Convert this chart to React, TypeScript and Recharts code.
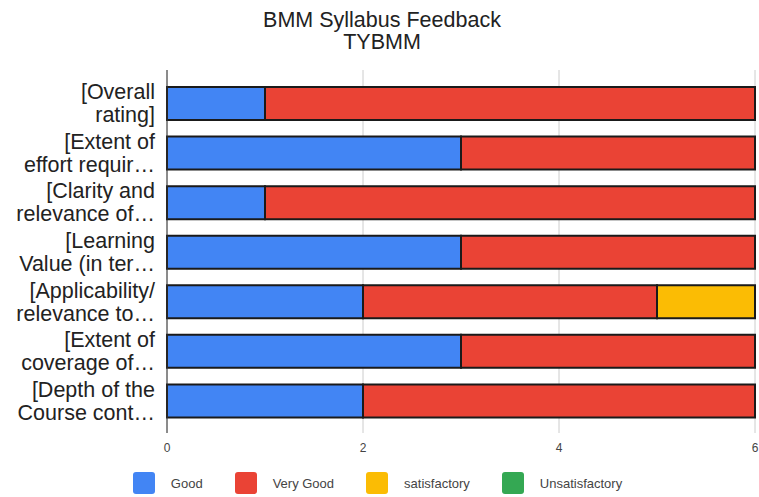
import React from "react";
import { BarChart, Bar, XAxis, YAxis, CartesianGrid, Legend } from "recharts";

const categories = [
  "Overall rating",
  "Extent of effort required",
  "Clarity and relevance of",
  "Learning Value",
  "Applicability/ relevance to",
  "Extent of coverage of",
  "Depth of the Course content",
];
const labelLine1 = [
  "[Overall",
  "[Extent of",
  "[Clarity and",
  "[Learning",
  "[Applicability/",
  "[Extent of",
  "[Depth of the",
];
const labelLine2 = [
  "rating]",
  "effort requir…",
  "relevance of…",
  "Value (in ter…",
  "relevance to…",
  "coverage of…",
  "Course cont…",
];
const good = [1, 3, 1, 3, 2, 3, 2];
const veryGood = [5, 3, 5, 3, 3, 3, 4];
const satisfactory = [0, 0, 0, 0, 1, 0, 0];
const unsatisfactory = [0, 0, 0, 0, 0, 0, 0];
const xTicks = [0, 2, 4, 6];

const seriesNames = ["Good", "Very Good", "satisfactory", "Unsatisfactory"];
const seriesColors = ["#4285F4", "#EA4335", "#FBBC04", "#34A853"];

const data = categories.map((c, i) => ({
  cat: c,
  good: good[i],
  veryGood: veryGood[i],
  satisfactory: satisfactory[i],
  unsatisfactory: unsatisfactory[i],
}));

const FONT = "'Liberation Sans', Arial, sans-serif";

const YTick = (props: any) => {
  const { x, y, payload } = props;
  const idx = categories.indexOf(payload.value);
  return (
    <text x={x} y={y} textAnchor="end" fontFamily={FONT} fontSize={21.5} fill="#222">
      <tspan x={x} y={y - 4.5}>{labelLine1[idx]}</tspan>
      <tspan x={x} y={y + 18.5}>{labelLine2[idx]}</tspan>
    </text>
  );
};

const LegendContent = () => (
  <div
    style={{
      height: 39,
      boxSizing: "border-box",
      paddingTop: 14,
      display: "flex",
      justifyContent: "center",
      alignItems: "flex-start",
      fontFamily: FONT,
      fontSize: 13,
      color: "#444",
    }}
  >
    {seriesNames.map((n, i) => (
      <div
        key={n}
        style={{
          display: "flex",
          alignItems: "center",
          marginRight: i < seriesNames.length - 1 ? 32 : 0,
          height: 22,
        }}
      >
        <div
          style={{
            width: 22,
            height: 22,
            borderRadius: 3,
            background: seriesColors[i],
            marginRight: 16,
          }}
        />
        <span>{n}</span>
      </div>
    ))}
  </div>
);

export default function App() {
  return (
    <div style={{ position: "absolute", left: 0, top: 0, width: 759, height: 497, background: "#fff" }}>
      <svg width={759} height={60} style={{ position: "absolute", left: 0, top: 0 }}>
        <text x={382} y={27} textAnchor="middle" fontFamily={FONT} fontSize={21.5} fill="#222">
          BMM Syllabus Feedback
        </text>
        <text x={382} y={49} textAnchor="middle" fontFamily={FONT} fontSize={21.5} fill="#222">
          TYBMM
        </text>
      </svg>
      <BarChart
        width={759}
        height={497}
        data={data}
        layout="vertical"
        margin={{ top: 70, right: 4, bottom: 0, left: 0 }}
        barSize={33}
      >
        <CartesianGrid horizontal={false} stroke="#cccccc" />
        <XAxis
          type="number"
          domain={[0, 6]}
          ticks={xTicks}
          axisLine={false}
          tickLine={false}
          tickSize={0}
          tickMargin={10}
          height={25}
          tick={{ fill: "#444", fontSize: 12, fontFamily: FONT }}
        />
        <YAxis
          type="category"
          dataKey="cat"
          width={167}
          padding={{ top: 9, bottom: 7 }}
          axisLine={{ stroke: "#333", strokeWidth: 1 }}
          tickLine={false}
          tickSize={0}
          tickMargin={12}
          tick={<YTick />}
          interval={0}
        />
        <Legend verticalAlign="bottom" content={<LegendContent />} />
        <Bar dataKey="good" name="Good" stackId="a" fill={seriesColors[0]} stroke="#1a1a1a" strokeWidth={2} isAnimationActive={false} />
        <Bar dataKey="veryGood" name="Very Good" stackId="a" fill={seriesColors[1]} stroke="#1a1a1a" strokeWidth={2} isAnimationActive={false} />
        <Bar dataKey="satisfactory" name="satisfactory" stackId="a" fill={seriesColors[2]} stroke="#1a1a1a" strokeWidth={2} isAnimationActive={false} />
        <Bar dataKey="unsatisfactory" name="Unsatisfactory" stackId="a" fill={seriesColors[3]} stroke="#1a1a1a" strokeWidth={2} isAnimationActive={false} />
      </BarChart>
    </div>
  );
}
